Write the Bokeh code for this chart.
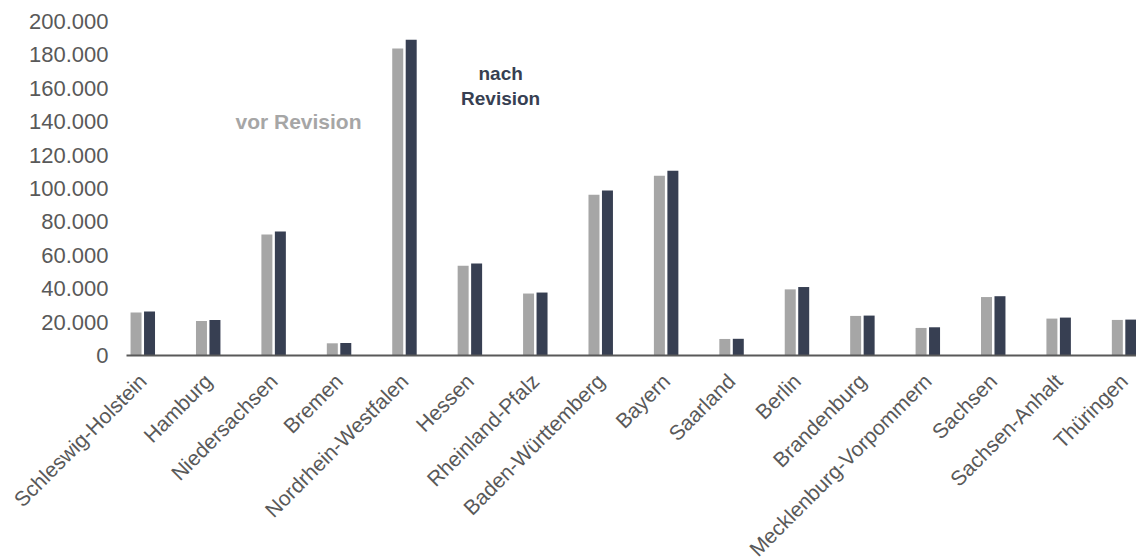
import math
from bokeh.plotting import figure
from bokeh.models import Range1d, ColumnDataSource
from bokeh.transform import dodge
from bokeh.core.properties import value
from bokeh.embed import file_html
from bokeh.resources import INLINE

states = ["Schleswig-Holstein", "Hamburg", "Niedersachsen", "Bremen",
          "Nordrhein-Westfalen", "Hessen", "Rheinland-Pfalz", "Baden-Württemberg",
          "Bayern", "Saarland", "Berlin", "Brandenburg", "Mecklenburg-Vorpommern",
          "Sachsen", "Sachsen-Anhalt", "Thüringen"]
vor_revision = [25700, 20700, 72400, 7300, 183900, 53800, 37100, 96200,
                107600, 9900, 39600, 23700, 16500, 35000, 22100, 21300]
nach_revision = [26300, 21300, 74200, 7500, 189100, 55100, 37700, 98800,
                 110600, 10000, 41000, 23900, 16900, 35500, 22700, 21500]
y_ticks = [0, 20000, 40000, 60000, 80000, 100000, 120000, 140000, 160000, 180000, 200000]
y_tick_labels = ["0", "20.000", "40.000", "60.000", "80.000", "100.000",
                 "120.000", "140.000", "160.000", "180.000", "200.000"]

GRAY = "#A6A6A6"
DARK = "#373F52"
TXT = "#595959"
FONT = "Liberation Sans"

# layout constants: canvas pixels and the value range of the bar area
W, H = 1136, 557
AREA_LEFT, AREA_TOP, AREA_BOTTOM = 126, 21, 355
X0, X1 = -0.249, 15.19
Y_MAX = 200000
x_per_px = (X1 - X0) / (W - AREA_LEFT)
y_per_px = Y_MAX / (AREA_BOTTOM - AREA_TOP)
x_range = Range1d(X0 - AREA_LEFT * x_per_px, X1)
y_range = Range1d(-(H - AREA_BOTTOM) * y_per_px, Y_MAX + AREA_TOP * y_per_px)

idx = list(range(len(states)))
src = ColumnDataSource(dict(x=idx, vor=vor_revision, nach=nach_revision,
                            base=[0] * len(states), name=states))
tick_src = ColumnDataSource(dict(x=[X0] * len(y_ticks), y=y_ticks, label=y_tick_labels))

p = figure(width=W, height=H, output_backend="svg", toolbar_location=None,
           x_range=x_range, y_range=y_range,
           min_border_left=0, min_border_right=0, min_border_top=0,
           min_border_bottom=0, x_axis_location=None, y_axis_location=None)
p.outline_line_color = None
p.xgrid.grid_line_color = None
p.ygrid.grid_line_color = None

p.vbar(x=dodge("x", -0.103, range=p.x_range), top="vor", width=0.168, bottom=0,
       source=src, fill_color=GRAY, line_color=None)
p.vbar(x=dodge("x", 0.103, range=p.x_range), top="nach", width=0.168, bottom=0,
       source=src, fill_color=DARK, line_color=None)
# baseline (category axis line)
p.segment(x0=[X0], y0=[0], x1=[X1], y1=[0], line_color=TXT, line_width=2)

# value axis labels
p.text(x="x", y="y", text="label", source=tick_src, x_offset=-18,
       text_align="right", text_baseline="middle",
       text_font=value(FONT), text_font_size="22px", text_color=TXT)

# category axis labels
p.text(x="x", y="base", text="name", source=src, angle=math.pi / 4,
       text_align="right", text_baseline="middle", x_offset=0, y_offset=22,
       text_font=value(FONT), text_font_size="21px", text_color=TXT)

p.text(x=[2.38], y=[140200], text=["vor Revision"], text_color=GRAY,
       text_font=value(FONT), text_font_style="bold", text_font_size="21px",
       text_align="center", text_baseline="middle")
p.text(x=[5.47], y=[161600], text=["nach\nRevision"], text_color=DARK,
       text_font=value(FONT), text_font_style="bold", text_font_size="19px",
       text_align="center", text_baseline="middle", text_line_height=1.2)

open("out.html", "w").write(file_html(p, INLINE))
